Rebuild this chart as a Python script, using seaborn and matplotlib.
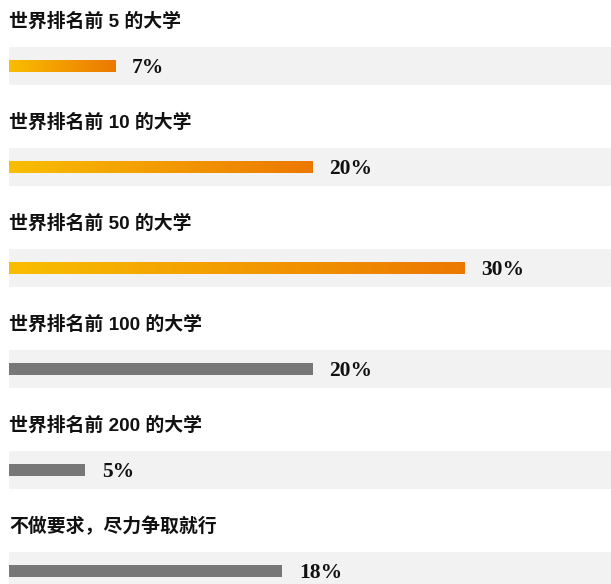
import matplotlib
matplotlib.use("Agg")
import matplotlib.pyplot as plt
import numpy as np
import pandas as pd
import seaborn as sns
from matplotlib.colors import LinearSegmentedColormap

labels = ["世界排名前 5 的大学", "世界排名前 10 的大学", "世界排名前 50 的大学",
          "世界排名前 100 的大学", "世界排名前 200 的大学", "不做要求，尽力争取就行"]
values = [7, 20, 30, 20, 5, 18]
highlight = [True, True, True, False, False, False]

sns.set_theme(style="white")
plt.rcParams["font.family"] = ["Liberation Sans", "Noto Sans CJK SC", "DejaVu Sans"]

fig = plt.figure(figsize=(6.11, 5.84), dpi=100)
ax = fig.add_axes([0, 0, 1, 1])

df = pd.DataFrame({"label": labels, "value": values, "band": [40] * len(values)})

# background bands
sns.barplot(data=df, x="band", y="label", orient="h", color="#F2F2F2",
            width=0.376, saturation=1, ax=ax)
n_band = len(ax.patches)
sns.barplot(data=df, x="value", y="label", orient="h", color="#777777",
            width=0.119, saturation=1, ax=ax)

grad = LinearSegmentedColormap.from_list("g", ["#F9BE00", "#EC7800"])
gradient = np.linspace(0, 1, 256).reshape(1, -1)
for patch, hl in zip(ax.patches[n_band:], highlight):
    patch.set_linewidth(0)
    if hl:
        x0, y0 = patch.get_x(), patch.get_y()
        w, h = patch.get_width(), patch.get_height()
        im = ax.imshow(gradient, cmap=grad, aspect="auto",
                       extent=(x0, x0 + w, y0 + h, y0), zorder=3)
        im.set_clip_path(patch)
        patch.set_facecolor("none")
for patch in ax.patches[:n_band]:
    patch.set_linewidth(0)

for i, (lab, v) in enumerate(zip(labels, values)):
    ax.text(0, i - 0.44, lab, fontsize=13.6, fontweight="bold", color="#111111",
            va="center", ha="left")
    ax.text(v + 1.1, i + 0.02, f"{v}%", fontsize=15.5, fontweight="bold",
            family="Liberation Serif", color="#111111", va="center", ha="left")

ax.set_xlim(-0.595, 39.65)
ax.set_ylim(5.129, -0.653)
ax.axis("off")

fig.savefig("out.png", dpi=100)
